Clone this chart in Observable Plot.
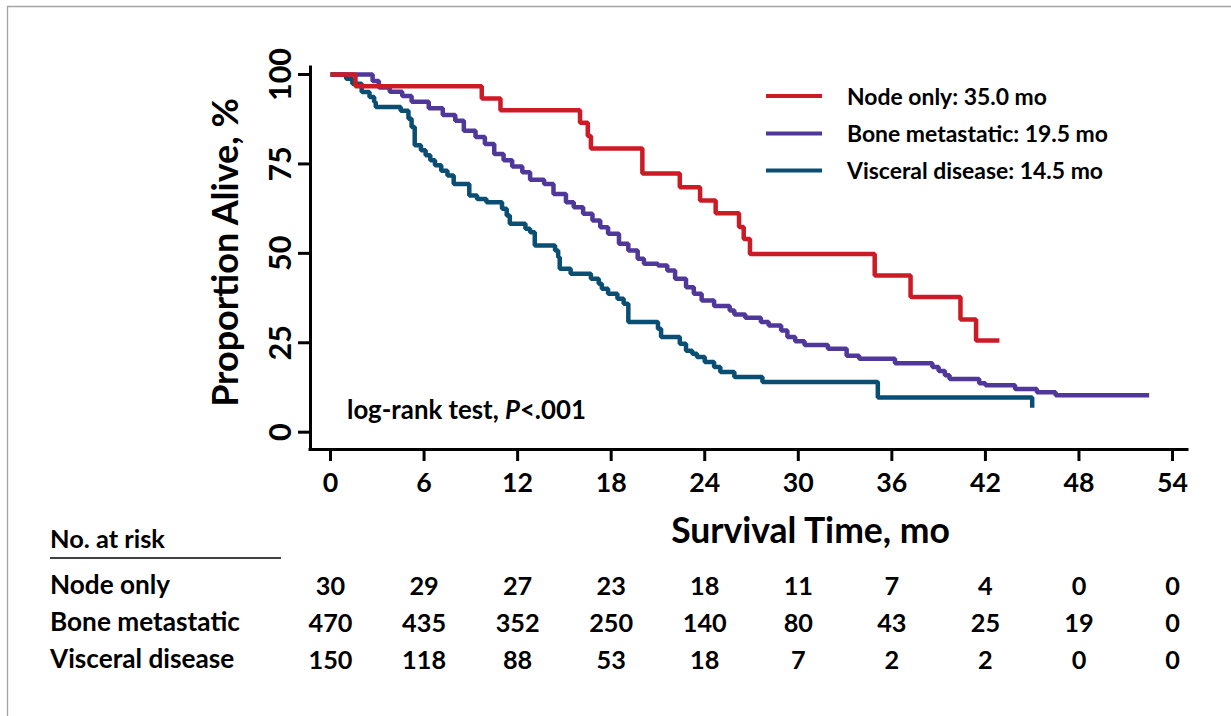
<!DOCTYPE html>
<html><head><meta charset="utf-8">
<script src="https://cdn.jsdelivr.net/npm/d3@7"></script>
<script src="https://cdn.jsdelivr.net/npm/@observablehq/plot@0.6"></script>
<style>
html,body{margin:0;padding:0;background:#fff;overflow:hidden;}
#wrap{position:relative;width:1231px;height:716px;}
#wrap svg{position:absolute;left:0;top:0;}
</style></head><body><div id="wrap"></div><script>
// ---------- data ----------
const groups = ["Node only", "Bone metastatic", "Visceral disease"];
const medians = ["35.0", "19.5", "14.5"];
const colors = ["#cd1b26", "#50379a", "#0b4e73"];
const months = [0, 6, 12, 18, 24, 30, 36, 42, 48, 54];
const yTicks = [0, 25, 50, 75, 100];

const nodeTime = [0, 1.6, 9.7, 10.9, 16.0, 16.5, 16.7, 20.0, 22.4, 23.7, 24.7, 26.2, 26.5, 26.9, 34.9, 37.2, 40.4, 41.4, 42.9];
const nodeSurv = [100, 96.7, 93.3, 90.0, 86.5, 82.8, 79.3, 72.3, 68.5, 64.8, 61.2, 57.4, 54.0, 49.8, 43.8, 37.8, 31.5, 25.6, 25.6];

const boneTime = [0, 2.7, 3.1, 3.8, 4.6, 5.2, 6.3, 7.2, 8.0, 8.55, 9.3, 9.9, 10.5, 11.1, 11.65, 12.3, 12.8, 13.7, 14.3, 15.1, 15.6, 16.2, 16.8, 17.3, 17.8, 18.5, 19.1, 19.7, 20.1, 21.0, 21.6, 22.1, 22.8, 23.3, 23.8, 24.6, 25.6, 25.9, 26.6, 27.6, 28.1, 28.9, 29.3, 29.8, 30.4, 31.9, 33.1, 33.9, 36.2, 38.6, 39.0, 39.4, 39.7, 41.6, 42.0, 43.9, 45.3, 46.5, 52.5];
const boneSurv = [100, 98.2, 96.4, 95.2, 94.0, 92.4, 90.6, 88.7, 87.1, 84.3, 82.5, 80.6, 77.8, 76.0, 74.3, 72.7, 70.6, 69.4, 66.6, 64.3, 62.9, 61.1, 59.2, 57.3, 55.5, 52.7, 50.8, 48.5, 47.1, 46.6, 45.2, 42.9, 40.5, 38.7, 36.8, 35.3, 34.0, 32.9, 32.0, 30.8, 29.8, 28.4, 26.6, 25.4, 24.4, 23.3, 21.4, 20.5, 19.3, 18.2, 17.1, 15.9, 14.9, 13.7, 13.1, 12.1, 11.2, 10.3, 10.3];

const viscTime = [0, 1.0, 1.4, 2.0, 2.5, 2.8, 2.9, 4.5, 5.0, 5.2, 5.4, 5.8, 6.1, 6.4, 6.7, 7.1, 7.5, 7.9, 8.9, 9.4, 10.0, 11.0, 11.3, 11.5, 12.5, 12.8, 13.1, 14.4, 14.6, 14.7, 15.4, 16.7, 17.2, 17.4, 17.8, 18.4, 18.8, 19.1, 21.0, 21.2, 22.4, 22.8, 23.2, 23.5, 24.0, 24.6, 25.0, 25.9, 27.7, 35.1, 45.0];
const viscSurv = [100, 98.8, 97.4, 95.1, 93.7, 92.3, 90.9, 89.9, 87.6, 85.3, 80.2, 78.8, 77.4, 76.0, 74.6, 73.1, 71.8, 69.4, 66.2, 65.2, 64.3, 62.5, 60.6, 58.3, 56.9, 55.9, 52.2, 50.8, 48.9, 45.7, 44.3, 42.9, 41.5, 40.1, 38.7, 37.3, 35.9, 30.8, 28.9, 26.6, 24.7, 22.8, 21.9, 21.0, 19.6, 18.2, 16.8, 15.4, 14.0, 9.7, 6.8];

const riskNode = [30, 29, 27, 23, 18, 11, 7, 4, 0, 0];
const riskBone = [470, 435, 352, 250, 140, 80, 43, 25, 19, 0];
const riskVisc = [150, 118, 88, 53, 18, 7, 2, 2, 0, 0];

const xLabel = "Survival Time, mo";
const yLabel = "Proportion Alive, %";
const riskTitle = "No. at risk";

// ---------- layout ----------
const FONT = "Lato";
const W = 1231, H = 716;
const FL = 310, FR = 1187, FT = 67, FB = 449;
const ctx = document.createElement("canvas").getContext("2d");
function fit(text, width, italic) {
  ctx.font = `${italic ? "italic " : ""}bold 100px ${FONT}`;
  return 100 * width / ctx.measureText(text).width;
}
const fsYTick = fit("100", 53);
const fsXTick = fit("12", 31);
const fsYLab = fit(yLabel, 310);
const fsXLab = fit(xLabel, 280);
const fsRisk = fit("470", 44);
const fsRow = fit("Bone metastatic", 190);
const fsHead = fit(riskTitle, 115);
const fsLeg = fit("Node only: 35.0 mo", 200);
const fsTest = fit("log-rank test, P<.001", 240);

const toRows = (T, S) => T.map((t, i) => ({t, s: S[i]}));
const series = [
  toRows(nodeTime, nodeSurv),
  toRows(boneTime, boneSurv),
  toRows(viscTime, viscSurv)
];
const risks = [riskNode, riskBone, riskVisc];
const riskBaselines = [594, 631, 668];

const lineOpts = (i) => ({x: "t", y: "s", curve: "step-after", stroke: colors[i], strokeWidth: 4.5, strokeLinejoin: "miter", strokeLinecap: "butt"});

const plot = Plot.plot({
  width: W, height: H,
  marginLeft: FL, marginRight: W - FR, marginTop: FT, marginBottom: H - FB,
  style: {fontFamily: FONT, fontWeight: "bold", background: "transparent", color: "#000"},
  x: {domain: [-1.283, 54.96], label: null},
  y: {domain: [-4.84, 101.96], label: null},
  marks: [
    Plot.line(series[2], lineOpts(2)),
    Plot.line(series[1], lineOpts(1)),
    Plot.line(series[0], lineOpts(0)),
    Plot.ruleX([-1.283], {strokeWidth: 3, strokeLinecap: "square"}),
    Plot.ruleY([-4.84], {strokeWidth: 3, strokeLinecap: "square"}),
    Plot.axisX({ticks: months, tickSize: 12, tickPadding: 12, strokeWidth: 3, fontSize: fsXTick, label: null}),
    Plot.axisY({ticks: yTicks, tickSize: 12, strokeWidth: 3, tickFormat: () => "", label: null}),
    Plot.text(yTicks, {y: d => d, text: d => String(d), frameAnchor: "left", rotate: -90, textAnchor: "middle", lineAnchor: "bottom", dx: -20, fontSize: fsYTick}),
    Plot.text([yLabel], {text: d => d, frameAnchor: "left", rotate: -90, textAnchor: "middle", lineAnchor: "bottom", dx: 237 - FL, dy: 252 - (FT + FB) / 2, fontSize: fsYLab}),
    Plot.text([xLabel], {text: d => d, frameAnchor: "bottom", textAnchor: "middle", lineAnchor: "bottom", dx: 810 - (FL + FR) / 2, dy: 542 - FB, fontSize: fsXLab}),
    ...risks.map((r, k) => Plot.text(months, {x: d => d, text: (d, i) => String(r[i]), frameAnchor: "bottom", lineAnchor: "bottom", dy: riskBaselines[k] - FB, fontSize: fsRisk}))
  ]
});
document.getElementById("wrap").appendChild(plot);

// ---------- annotations overlay ----------
const svg = d3.select("#wrap").append("svg").attr("width", W).attr("height", H)
  .style("font-family", FONT).style("font-weight", "bold");
// frame border
svg.append("path").attr("d", `M7.5,${H} V6.5 H${W}`).attr("fill", "none").attr("stroke", "#a3a3a3").attr("stroke-width", 1.3);
// legend
const legY = [96, 133.5, 170.5];
groups.forEach((g, i) => {
  svg.append("line").attr("x1", 766).attr("x2", 822).attr("y1", legY[i]).attr("y2", legY[i])
    .attr("stroke", colors[i]).attr("stroke-width", 4);
  svg.append("text").attr("x", 847).attr("y", legY[i] + 8.5).attr("font-size", fsLeg)
    .text(`${g}: ${medians[i]} mo`);
});
// log-rank
const t = svg.append("text").attr("x", 347).attr("y", 419).attr("font-size", fsTest);
t.append("tspan").text("log-rank test, ");
t.append("tspan").attr("font-style", "italic").text("P");
t.append("tspan").text("<.001");
// risk table labels
svg.append("text").attr("x", 50).attr("y", 547.5).attr("font-size", fsHead).text(riskTitle);
svg.append("line").attr("x1", 50).attr("x2", 281).attr("y1", 558).attr("y2", 558).attr("stroke", "#000").attr("stroke-width", 1.4);
groups.forEach((g, i) => {
  svg.append("text").attr("x", 50).attr("y", riskBaselines[i]).attr("font-size", fsRow).text(g);
});
</script></body></html>
